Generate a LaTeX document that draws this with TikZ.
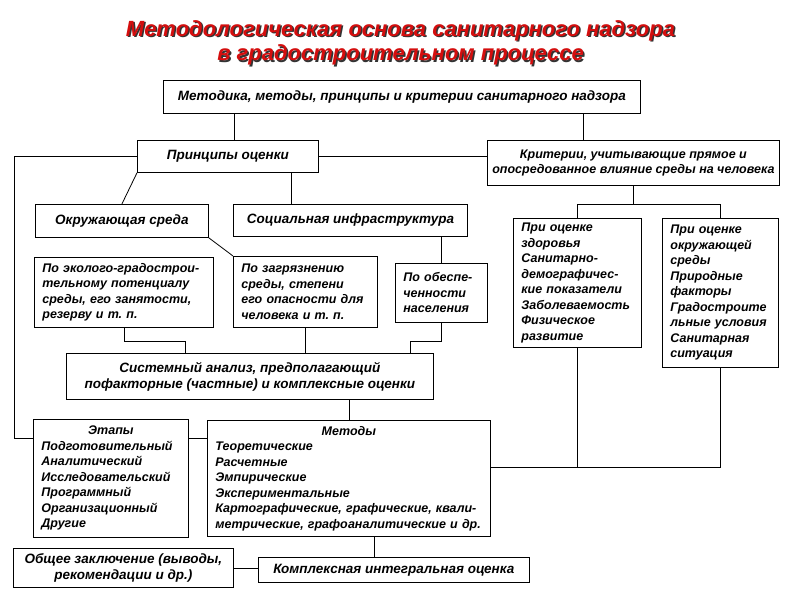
\documentclass[tikz,border=0pt]{standalone}
\usepackage{fontspec}
\setmainfont{Liberation Sans}
\usetikzlibrary{calc, positioning}

\definecolor{titlered}{RGB}{212,14,14}
\newcommand\BoxFont{\fontsize{13.5}{16}\selectfont\bfseries\itshape}
\newcommand\ListFont{\fontsize{12.5}{15.5}\selectfont\bfseries\itshape}

\begin{document}
\begin{tikzpicture}[x=1pt, y=-1pt, thick]
    \tikzset{
      my box/.style={
        draw, anchor=north west, align=center, inner sep=2pt, font=\BoxFont
      },
      my list/.style={
        my box, align=left, inner xsep=8pt, text width=#1, font=\ListFont
      },
      my title/.style={
        font=\fontsize{22}{24.5}\selectfont\bfseries\itshape, align=center
      },
    }
    \useasboundingbox (0,0) rectangle (800,600);

    % Title
    \node (title shadow) [my title, text=black!80] at (402,44.5)
      {Методологическая основа санитарного надзора\\в градостроительном процессе};
    \node (title) [my title, text=titlered] at (400.5,43)
      {Методологическая основа санитарного надзора\\в градостроительном процессе};

    % Upper boxes
    \node (top) [my box, minimum width=477pt, minimum height=33pt] at (163,80)
      {Методика, методы, принципы и критерии санитарного надзора};
    \node (principles) [my box, minimum width=181pt, minimum height=32pt] at (137,140)
      {Принципы оценки};
    \node (criteria) [my box, font=\ListFont, minimum width=292pt, minimum height=45pt] at (487,140)
      {Критерии, учитывающие прямое и\\опосредованное влияние среды на человека};
    \node (environment) [my box, minimum width=173pt, minimum height=33pt] at (35,204)
      {Окружающая среда};
    \node (social) [my box, minimum width=234pt, minimum height=32pt] at (233,204)
      {Социальная инфраструктура};

    % Criteria boxes
    \node (health) [my list=112pt, minimum height=129pt] at (513,218)
      {При оценке\\здоровья\\Санитарно-\\демографичес-\\кие показатели\\Заболеваемость\\Физическое\\развитие};
    \node (habitat) [my list=100pt, minimum height=149pt] at (662,218)
      {При оценке\\окружающей\\среды\\Природные\\факторы\\Градостроите\\льные условия\\Санитарная\\ситуация};

    % Principle boxes
    \node (ecology) [my list=163pt, minimum height=70pt] at (34,257)
      {По эколого-градострои-\\тельному потенциалу\\среды, его занятости,\\резерву и т.~п.};
    \node (pollution) [my list=128pt, minimum height=71pt] at (233,256)
      {По загрязнению\\среды, степени\\его опасности для\\человека и т.~п.};
    \node (supply) [my list=76pt, minimum height=59pt] at (395,263)
      {По обеспе-\\ченности\\населения};

    \node (analysis) [my box, minimum width=367pt, minimum height=46pt] at (66,353)
      {Системный анализ, предполагающий\\пофакторные (частные) и комплексные оценки};

    % Stages and methods
    \node (stages) [my list=139pt, minimum height=118pt] at (33,419)
      {\makebox[\hsize]{Этапы}\\Подготовительный\\Аналитический\\Исследовательский\\Программный\\Организационный\\Другие};
    \node (methods) [my list=267pt, minimum height=116pt] at (207,420)
      {\makebox[\hsize]{Методы}\\Теоретические\\Расчетные\\Эмпирические\\Экспериментальные\\Картографические, графические, квали-\\метрические, графоаналитические и~др.};

    % Results
    \node (conclusion) [my box, minimum width=220pt, minimum height=39pt] at (13,548)
      {Общее заключение (выводы,\\рекомендации и~др.)};
    \node (integral) [my box, minimum width=271pt, minimum height=25pt] at (258,557)
      {Комплексная интегральная оценка};

    % Connectors
    \draw ([xshift=6pt]principles.north) -- ([xshift=6pt]principles.north |- top.south);
    \draw ([xshift=-50pt]criteria.north) -- ([xshift=-50pt]criteria.north |- top.south);
    \draw (principles.east) -- (principles.east -| criteria.west);
    \draw (principles.west) -- ++(-123,0) |- ([yshift=-19pt]stages.north west);
    \draw (principles.south west) -- (environment.north);
    \draw ([xshift=-59pt]social.north) -- ([xshift=-59pt]social.north |- principles.south);
    \draw (environment.south east) -- (pollution.north west);
    \draw (supply.north) -- (supply.north |- social.south);
    \draw (criteria.south) -- ++(0,19) coordinate (criteria fork);
    \draw (health.north) |- (criteria fork) -| (habitat.north);
    \draw (health.south) |- ([yshift=11pt]methods.east);
    \draw (habitat.south) |- ([yshift=11pt]methods.east);
    \draw (ecology.south) -- ++(0,14) -| ([xshift=-65pt]analysis.north);
    \draw (pollution.south) -- (pollution.south |- analysis.north);
    \draw (supply.south) -- ++(0,19) -| ([xshift=160pt]analysis.north);
    \draw (methods.north) -- (methods.north |- analysis.south);
    \draw ([yshift=-19pt]stages.north east) -- ([yshift=-19pt]stages.north east -| methods.west);
    \draw ([xshift=-20pt]integral.north) -- ([xshift=-20pt]integral.north |- methods.south);
    \draw (conclusion.east) -- (conclusion.east -| integral.west);
\end{tikzpicture}
\end{document}
